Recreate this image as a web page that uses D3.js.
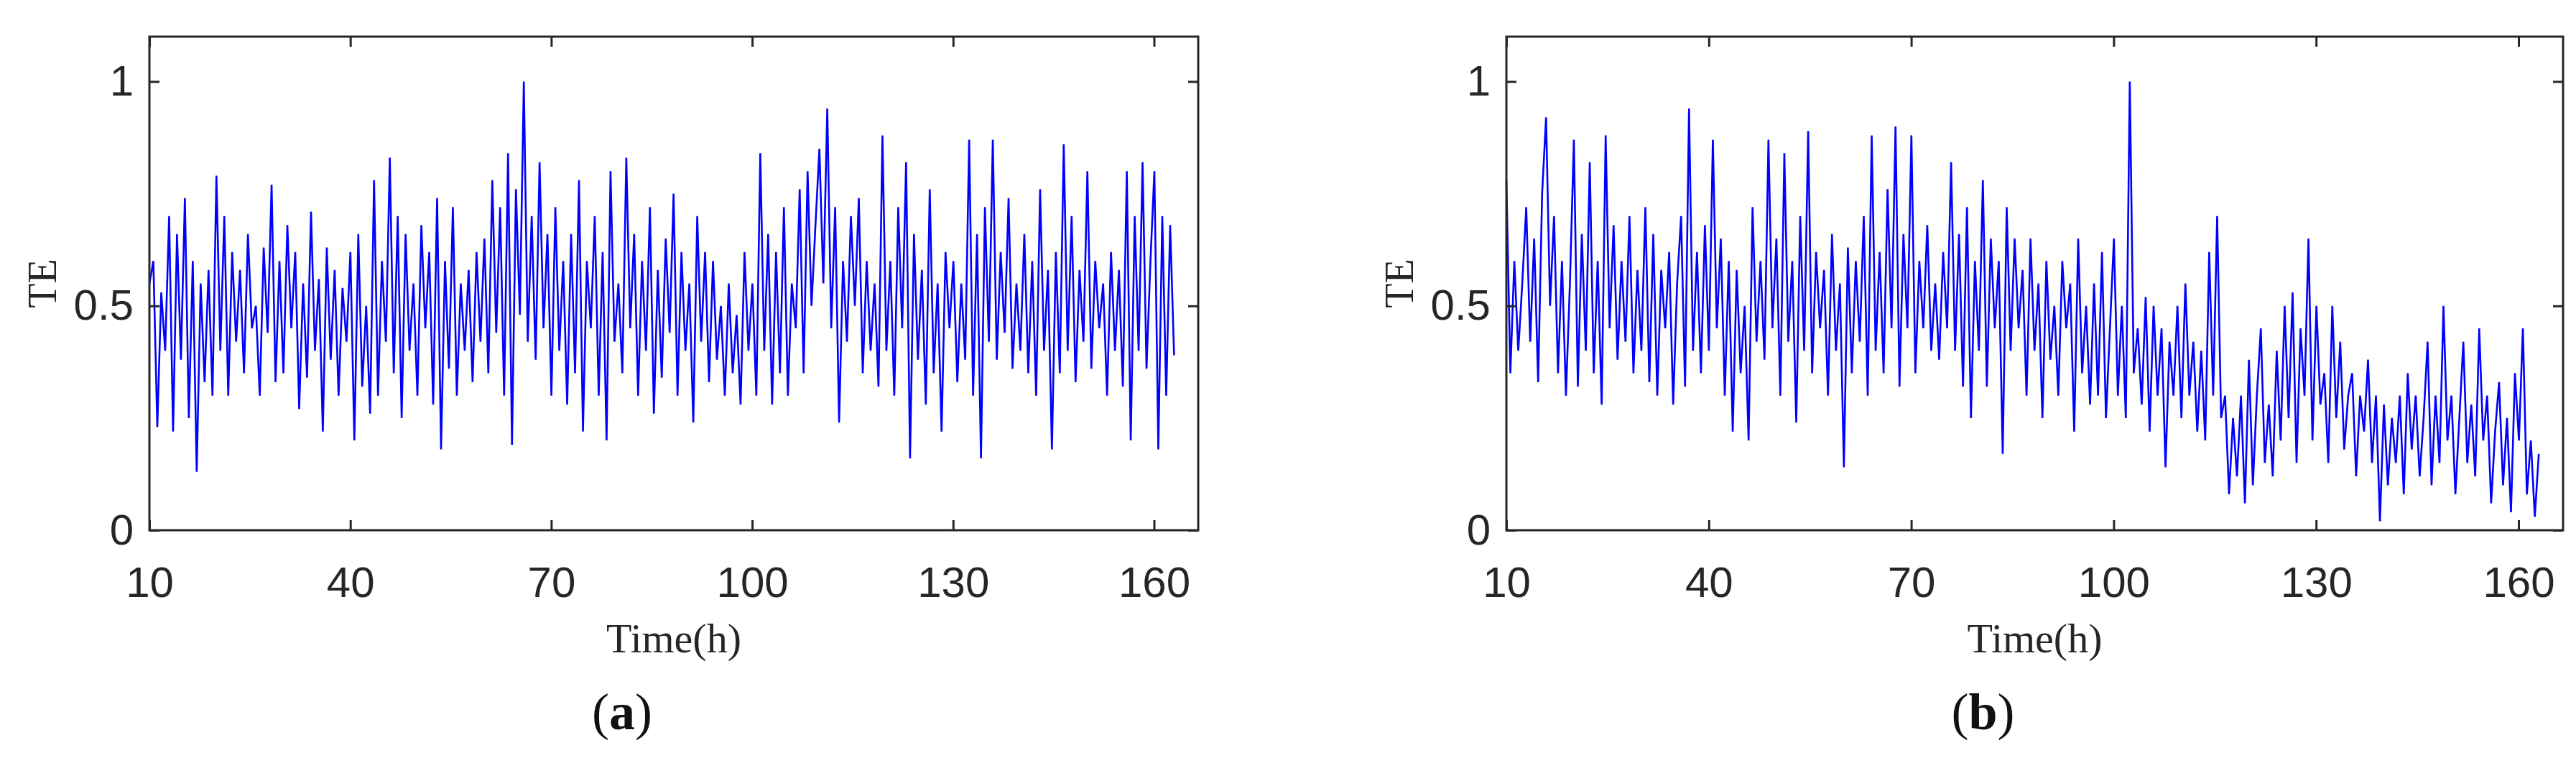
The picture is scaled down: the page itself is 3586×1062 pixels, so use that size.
<!DOCTYPE html>
<html><head><meta charset="utf-8">
<script src="https://cdn.jsdelivr.net/npm/d3@7"></script>
<style>body{margin:0;background:#fff}</style></head>
<body><svg id="c" width="3586" height="1062"></svg>
<script>
const seriesA = [0.55,0.6,0.23,0.53,0.4,0.7,0.22,0.66,0.38,0.74,0.25,0.6,0.13,0.55,0.33,0.58,0.3,
0.79,0.4,0.7,0.3,0.62,0.42,0.58,0.35,0.66,0.45,0.5,0.3,0.63,0.44,0.77,0.33,0.6,
0.35,0.68,0.45,0.62,0.27,0.55,0.34,0.71,0.4,0.56,0.22,0.63,0.38,0.58,0.3,0.54,0.42,
0.62,0.2,0.66,0.32,0.5,0.26,0.78,0.3,0.6,0.42,0.83,0.35,0.7,0.25,0.66,0.4,0.55,
0.3,0.68,0.45,0.62,0.28,0.74,0.18,0.6,0.36,0.72,0.3,0.55,0.4,0.58,0.33,0.62,0.42,
0.65,0.35,0.78,0.44,0.72,0.3,0.84,0.19,0.76,0.48,1.0,0.42,0.7,0.38,0.82,0.45,0.66,
0.3,0.72,0.4,0.6,0.28,0.66,0.35,0.78,0.22,0.6,0.45,0.7,0.3,0.62,0.2,0.8,0.42,
0.55,0.35,0.83,0.45,0.66,0.3,0.6,0.4,0.72,0.26,0.58,0.34,0.65,0.44,0.75,0.3,0.62,
0.4,0.55,0.24,0.7,0.42,0.62,0.33,0.6,0.38,0.5,0.3,0.55,0.35,0.48,0.28,0.62,0.4,
0.55,0.3,0.84,0.4,0.66,0.28,0.62,0.35,0.72,0.3,0.55,0.45,0.76,0.35,0.8,0.5,0.68,
0.85,0.55,0.94,0.45,0.72,0.24,0.6,0.42,0.7,0.5,0.74,0.35,0.6,0.4,0.55,0.32,0.88,
0.4,0.6,0.3,0.72,0.45,0.82,0.16,0.66,0.38,0.58,0.28,0.76,0.35,0.55,0.22,0.62,0.45,
0.6,0.33,0.55,0.38,0.87,0.3,0.66,0.16,0.72,0.42,0.87,0.38,0.62,0.44,0.74,0.36,0.55,
0.4,0.66,0.35,0.6,0.3,0.76,0.4,0.58,0.18,0.62,0.35,0.86,0.4,0.7,0.33,0.58,0.42,
0.8,0.36,0.6,0.45,0.55,0.3,0.62,0.4,0.58,0.32,0.8,0.2,0.7,0.4,0.82,0.36,0.6,
0.8,0.18,0.7,0.3,0.68,0.39];
const seriesB = [0.78,0.35,0.6,0.4,0.55,0.72,0.42,0.65,0.33,0.75,0.92,0.5,0.7,0.35,0.6,0.3,0.55,
0.87,0.32,0.66,0.4,0.82,0.35,0.6,0.28,0.88,0.45,0.68,0.38,0.6,0.42,0.7,0.35,0.58,
0.4,0.72,0.33,0.66,0.3,0.58,0.45,0.62,0.28,0.55,0.7,0.32,0.94,0.4,0.62,0.35,0.68,
0.4,0.87,0.45,0.65,0.3,0.6,0.22,0.58,0.35,0.5,0.2,0.72,0.42,0.6,0.38,0.87,0.45,
0.65,0.3,0.84,0.42,0.6,0.24,0.7,0.4,0.89,0.35,0.62,0.45,0.58,0.3,0.66,0.4,0.55,
0.14,0.63,0.35,0.6,0.42,0.7,0.3,0.88,0.4,0.62,0.35,0.76,0.45,0.9,0.32,0.66,0.45,
0.88,0.35,0.6,0.45,0.68,0.4,0.55,0.38,0.62,0.45,0.82,0.4,0.66,0.32,0.72,0.25,0.6,
0.4,0.78,0.32,0.65,0.45,0.6,0.17,0.72,0.4,0.65,0.45,0.58,0.3,0.65,0.4,0.55,0.25,
0.6,0.38,0.5,0.3,0.6,0.45,0.55,0.22,0.65,0.35,0.5,0.28,0.55,0.3,0.62,0.25,0.45,
0.65,0.3,0.5,0.25,1.0,0.35,0.45,0.28,0.52,0.22,0.5,0.3,0.45,0.14,0.42,0.3,0.5,
0.25,0.55,0.3,0.42,0.22,0.4,0.2,0.62,0.3,0.7,0.25,0.3,0.08,0.25,0.12,0.3,0.06,
0.38,0.1,0.3,0.45,0.15,0.28,0.12,0.4,0.2,0.5,0.25,0.53,0.15,0.45,0.3,0.65,0.2,
0.5,0.28,0.35,0.15,0.5,0.25,0.42,0.18,0.3,0.35,0.12,0.3,0.22,0.38,0.15,0.3,0.02,
0.28,0.1,0.25,0.15,0.3,0.08,0.35,0.18,0.3,0.12,0.25,0.42,0.1,0.3,0.15,0.5,0.2,
0.3,0.08,0.25,0.42,0.15,0.28,0.12,0.45,0.2,0.3,0.06,0.22,0.33,0.1,0.25,0.04,0.35,
0.2,0.45,0.08,0.2,0.03,0.17];
const xTicks = [10,40,70,100,130,160];
const yTicks = [0,0.5,1];
const tStart = 10, tEnd = 163;
const captions = ["a","b"];

const svg = d3.select("#c");
const ink = "#262626";
const panels = [
  {data: seriesA, x0: 208, x1: 1668, cap: captions[0]},
  {data: seriesB, x0: 2097, x1: 3568, cap: captions[1]}
];
const plotTop = 51, plotBot = 738;
panels.forEach(p => {
  const x = d3.scaleLinear().domain([10, 166.6]).range([p.x0, p.x1]);
  const y = d3.scaleLinear().domain([0, 1.1]).range([plotBot, plotTop]);
  const g = svg.append("g");
  const n = p.data.length;
  const pts = p.data.map((v, i) => [tStart + i * (tEnd - tStart) / (n - 1), v]);
  g.append("path").datum(pts)
    .attr("d", d3.line().x(d => x(d[0])).y(d => y(d[1])))
    .attr("fill", "none").attr("stroke", "#0000ff").attr("stroke-width", 2.6);
  const ax = (sel) => sel.selectAll(".domain").remove();
  g.append("g").attr("transform", `translate(0,${plotBot})`)
    .call(d3.axisBottom(x).tickValues(xTicks).tickSize(-14).tickPadding(50).tickFormat(d3.format("d")))
    .call(ax);
  g.append("g").attr("transform", `translate(0,${plotTop})`)
    .call(d3.axisTop(x).tickValues(xTicks).tickSize(-14).tickFormat(""))
    .call(ax);
  g.append("g").attr("transform", `translate(${p.x0},0)`)
    .call(d3.axisLeft(y).tickValues(yTicks).tickSize(-14).tickPadding(22).tickFormat(d => d === 0 ? "0" : d === 1 ? "1" : "0.5"))
    .call(ax);
  g.append("g").attr("transform", `translate(${p.x1},0)`)
    .call(d3.axisRight(y).tickValues(yTicks).tickSize(-14).tickFormat(""))
    .call(ax);
  g.selectAll(".tick line").attr("stroke", ink).attr("stroke-width", 3);
  g.selectAll(".tick text").attr("fill", ink).style("font-family", "Liberation Sans, Arial, sans-serif").style("font-size", "60px");
  g.append("rect").attr("x", p.x0).attr("y", plotTop).attr("width", p.x1 - p.x0).attr("height", plotBot - plotTop)
    .attr("fill", "none").attr("stroke", ink).attr("stroke-width", 3);
  const cx = (p.x0 + p.x1) / 2;
  g.append("text").attr("x", cx).attr("y", 908).attr("text-anchor", "middle")
    .style("font-family", "Liberation Serif, Times New Roman, serif").style("font-size", "58px").attr("fill", ink).text("Time(h)");
  g.append("text").attr("transform", `translate(${p.x0 - 130},${(plotTop + plotBot) / 2}) rotate(-90)`).attr("text-anchor", "middle")
    .style("font-family", "Liberation Serif, Times New Roman, serif").style("font-size", "56px").attr("fill", ink).text("TE");
  const c = g.append("text").attr("x", cx - 72).attr("y", 1015).attr("text-anchor", "middle")
    .style("font-family", "Liberation Serif, Times New Roman, serif").style("font-size", "72px").attr("fill", "#111");
  c.append("tspan").text("(");
  c.append("tspan").attr("font-weight", "bold").text(p.cap);
  c.append("tspan").text(")");
});
</script></body></html>
